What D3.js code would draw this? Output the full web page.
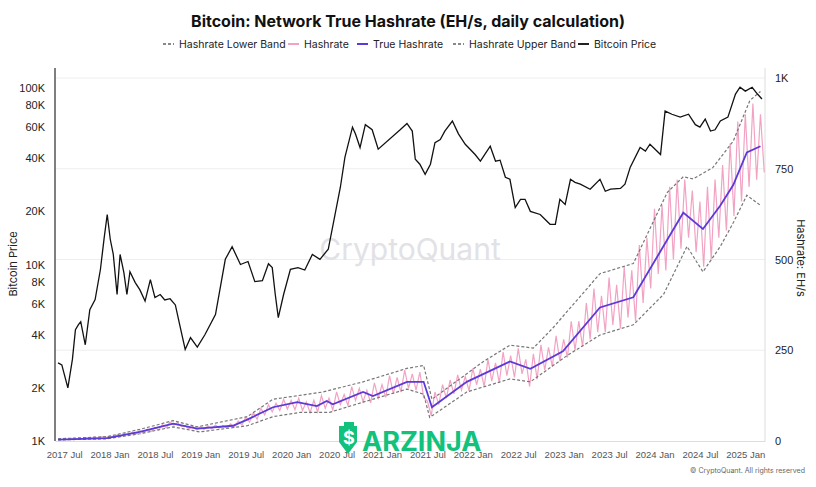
<!DOCTYPE html>
<html>
<head>
<meta charset="UTF-8">
<script src="https://d3js.org/d3.v7.min.js"></script>
<style>
  body { margin: 0; background: #fff; font-family: Inter, 'Noto Sans', sans-serif; }
  .tick text { fill: #222; font-size: 11px; }
  .x-axis .tick text { fill: #555; font-size: 9.5px; }
</style>
</head>
<body>
<svg id="chart" width="816" height="487"></svg>
<script>
// months since 2017 Jul
const xTickLabels = ["2017 Jul","2018 Jan","2018 Jul","2019 Jan","2019 Jul","2020 Jan","2020 Jul","2021 Jan",
  "2021 Jul","2022 Jan","2022 Jul","2023 Jan","2023 Jul","2024 Jan","2024 Jul","2025 Jan"];
const priceMonths = [-0.8,-0.3,0.5,1.1,1.5,1.9,2.2,2.8,3.4,4.1,4.8,5.3,5.7,6.1,6.5,7.0,7.4,7.9,8.3,8.7,9.4,10.0,10.7,11.4,
  12.0,12.7,13.3,14.0,14.7,15.3,16.0,16.7,17.6,18.6,20.0,21.3,22.2,23.3,24.3,25.2,26.2,27.0,27.5,27.9,28.3,29.0,29.9,
  30.9,31.8,32.8,33.8,34.9,35.8,36.5,37.1,38.1,38.5,39.1,39.8,40.7,41.5,44.4,45.3,46.0,46.4,47.0,47.7,48.4,49.0,49.7,
  50.3,51.3,52.1,53.0,54.3,55.0,56.3,57.0,57.6,58.3,58.9,59.6,60.3,60.9,61.6,62.9,64.2,64.9,65.5,66.2,66.9,67.5,68.2,
  69.5,70.8,71.5,72.2,73.5,74.1,74.8,76.1,76.8,77.4,78.8,79.4,80.3,81.4,82.5,83.4,84.0,84.7,85.4,86.0,86.7,87.7,88.7,
  89.3,90.0,90.9,91.6,92.2];
const priceValues = [2770,2700,2000,2900,4270,4560,4740,3510,5550,6330,9370,14200,19200,13900,11400,6760,11400,9000,6760,
  9100,7900,7200,6200,8200,6500,6760,6300,6400,5900,4500,3300,3850,3400,4000,5200,10700,12600,10000,10400,8000,8100,
  10100,9600,6760,5000,6760,9400,9600,9300,11400,10700,12200,19200,27400,40500,60000,54800,46000,62000,58000,45000,
  58000,63000,57000,39500,37000,32400,37000,49000,51000,57000,65000,55000,48000,42000,38500,46800,38500,39000,31200,
  30400,21000,23400,23400,20000,19200,16900,16900,23400,21900,30400,29200,28500,26700,30400,26000,26700,27000,28500,
  35600,46000,43900,48000,42000,74000,71000,68400,71000,62000,60000,66700,57000,58000,65000,68400,92400,101000,96000,
  101000,92400,86600];
const trueMonths = [-0.8,5.7,10,14.4,17.6,22.3,24.2,27.6,30.8,33.4,34.7,35.5,39.5,40.8,45.3,47.5,48.6,53.2,58.9,61.6,
  65.9,70.8,75.2,81.8,84.4,86.7,88.4,90.2,92];
const trueValues = [4,8,25,48,34,42,59,93,107,96,110,101,135,124,163,163,93,163,219,199,247,368,396,629,584,649,705,795,812];
const upperMonths = [-0.8,5.7,10,14.4,17.6,24.2,27.6,34.2,39.5,45.3,47.5,48.6,55.4,58.9,62,64.6,70.8,75.2,79.7,81.8,
  83.1,85.7,88.4,90.6,92];
const upperValues = [6,12,32,56,39,67,115,135,163,200,208,115,219,264,256,312,461,489,685,728,722,753,826,938,963];
const lowerMonths = [-0.8,5.7,10,14.4,17.9,24.2,27.6,31.2,35.1,39.5,45.3,47.5,48.3,53.2,58.9,61.6,66.5,70.8,75.2,
  79.2,82.3,84.4,86.7,88.4,90.2,92];
const lowerValues = [3,6,20,39,25,42,67,79,79,107,143,129,65,135,171,163,236,292,320,404,536,466,536,601,677,649];
// raw daily hashrate, sampled every half month (high/low swings)
const rawValues = [5,4,7,5,8,6,9,7,11,8,12,9,14,11,17,13,20,16,24,19,28,22,33,26,38,30,45,36,52,44,50,40,42,33,40,31,
  39,32,42,34,44,36,43,36,47,38,55,44,66,52,78,60,90,72,100,80,104,84,115,88,112,86,118,84,108,78,112,80,125,90,
  118,85,135,100,128,98,150,112,145,108,140,105,160,118,155,120,180,130,175,135,195,145,185,140,190,120,110,70,
  135,100,155,118,168,130,182,140,178,138,200,155,198,150,225,165,215,160,245,180,235,175,255,185,225,150,240,170,
  265,195,258,205,290,220,280,230,330,250,330,260,380,280,420,300,400,300,450,320,430,310,480,340,470,330,540,380,
  560,420,640,460,650,470,700,500,720,530,720,560,690,520,660,480,700,500,720,560,760,580,820,620,880,660,900,700,
  930,720,900,740];
const leftTicks = [1000,2000,4000,6000,8000,10000,20000,40000,60000,80000,100000];
const rightTicks = [0,250,500,750,1000];

const svg = d3.select("#chart");
const x = d3.scaleLinear().domain([-1.2, 92.6]).range([55, 765]);
const yP = d3.scaleLog().domain([1000, 100000]).range([441, 88]);
const yH = d3.scaleLinear().domain([0, 1000]).range([441, 78]);

// grid
svg.append("g").selectAll("line").data(rightTicks.slice(1)).join("line")
  .attr("x1", 55).attr("x2", 765).attr("y1", d => yH(d)).attr("y2", d => yH(d))
  .attr("stroke", "#eeeeee");

// watermark
svg.append("text").attr("x", 410).attr("y", 260).attr("text-anchor", "middle")
  .attr("font-size", 30).attr("fill", "#e2e2e6").text("CryptoQuant");

// axes
const xAxis = svg.append("g").attr("class", "x-axis").attr("transform", "translate(0,441)")
  .call(d3.axisBottom(x).tickValues(d3.range(0, 91, 6)).tickFormat((d, i) => xTickLabels[i]).tickSize(0).tickPadding(10));
xAxis.select(".domain").attr("stroke", "#ddd");

const leftAxis = svg.append("g").attr("transform", "translate(55,0)")
  .call(d3.axisLeft(yP).tickValues(leftTicks).tickFormat(d => (d / 1000) + "K").tickSize(0).tickPadding(10));
leftAxis.select(".domain").remove();
svg.append("line").attr("x1", 55).attr("x2", 55).attr("y1", 68).attr("y2", 441).attr("stroke", "#555").attr("stroke-width", 1.5);

const rightAxis = svg.append("g").attr("transform", "translate(765,0)")
  .call(d3.axisRight(yH).tickValues(rightTicks).tickFormat(d => d === 1000 ? "1K" : d).tickSize(0).tickPadding(10));
rightAxis.select(".domain").remove();
svg.append("line").attr("x1", 765).attr("x2", 765).attr("y1", 68).attr("y2", 441).attr("stroke", "#ddd");

svg.append("text").attr("transform", "translate(17,264) rotate(-90)").attr("text-anchor", "middle")
  .attr("font-size", 11).attr("fill", "#222").text("Bitcoin Price");
svg.append("text").attr("transform", "translate(797,258) rotate(90)").attr("text-anchor", "middle")
  .attr("font-size", 11).attr("fill", "#222").text("Hashrate: EH/s");

// series
const lineH = (ms, vs) => d3.line().x((d, i) => x(ms[i])).y(d => yH(d))(vs);
svg.append("path").attr("d", d3.line().x((d, i) => x(i * 0.5)).y(d => yH(d))(rawValues))
  .attr("fill", "none").attr("stroke", "#f2a3c4").attr("stroke-width", 1.2);
svg.append("path").attr("d", lineH(upperMonths, upperValues))
  .attr("fill", "none").attr("stroke", "#777").attr("stroke-width", 1.2).attr("stroke-dasharray", "3,2");
svg.append("path").attr("d", lineH(lowerMonths, lowerValues))
  .attr("fill", "none").attr("stroke", "#777").attr("stroke-width", 1.2).attr("stroke-dasharray", "3,2");
svg.append("path").attr("d", lineH(trueMonths, trueValues))
  .attr("fill", "none").attr("stroke", "#5a3ad8").attr("stroke-width", 1.8);
svg.append("path").attr("d", d3.line().x((d, i) => x(priceMonths[i])).y(d => yP(d))(priceValues))
  .attr("fill", "none").attr("stroke", "#111").attr("stroke-width", 1.3);

// title + legend
svg.append("text").attr("x", 408).attr("y", 27).attr("text-anchor", "middle")
  .attr("font-size", 16).attr("font-weight", "bold").attr("fill", "#111")
  .text("Bitcoin: Network True Hashrate (EH/s, daily calculation)");
const legendItems = [
  {name: "Hashrate Lower Band", color: "#888", dash: "3,2", x: 163},
  {name: "Hashrate", color: "#f2a3c4", dash: null, x: 288},
  {name: "True Hashrate", color: "#5a3ad8", dash: null, x: 357},
  {name: "Hashrate Upper Band", color: "#888", dash: "3,2", x: 453},
  {name: "Bitcoin Price", color: "#222", dash: null, x: 578}
];
const lg = svg.append("g").selectAll("g").data(legendItems).join("g")
  .attr("transform", d => `translate(${d.x},48)`);
lg.append("line").attr("x1", 0).attr("x2", 11).attr("y1", -4).attr("y2", -4)
  .attr("stroke", d => d.color).attr("stroke-width", 2).attr("stroke-dasharray", d => d.dash);
lg.append("text").attr("x", 16).attr("y", 0).attr("font-size", 10.5).attr("fill", "#222").text(d => d.name);

// footer + logo
svg.append("text").attr("x", 805).attr("y", 473).attr("text-anchor", "end")
  .attr("font-size", 7).attr("fill", "#666").text("© CryptoQuant. All rights reserved");
const logo = svg.append("g").attr("transform", "translate(340,422)");
logo.append("path").attr("d", "M4,0 h10 v4 h3 v16 l-9,12 l-9,-12 v-16 h5z").attr("fill", "#12c17c");
logo.append("text").attr("x", 9).attr("y", 22).attr("text-anchor", "middle").attr("font-size", 18)
  .attr("font-weight", "bold").attr("fill", "#fff").text("$");
logo.append("text").attr("x", 22).attr("y", 29).attr("font-size", 27).attr("font-weight", "bold")
  .attr("fill", "#12c17c").text("ARZINJA");
</script>
</body>
</html>
